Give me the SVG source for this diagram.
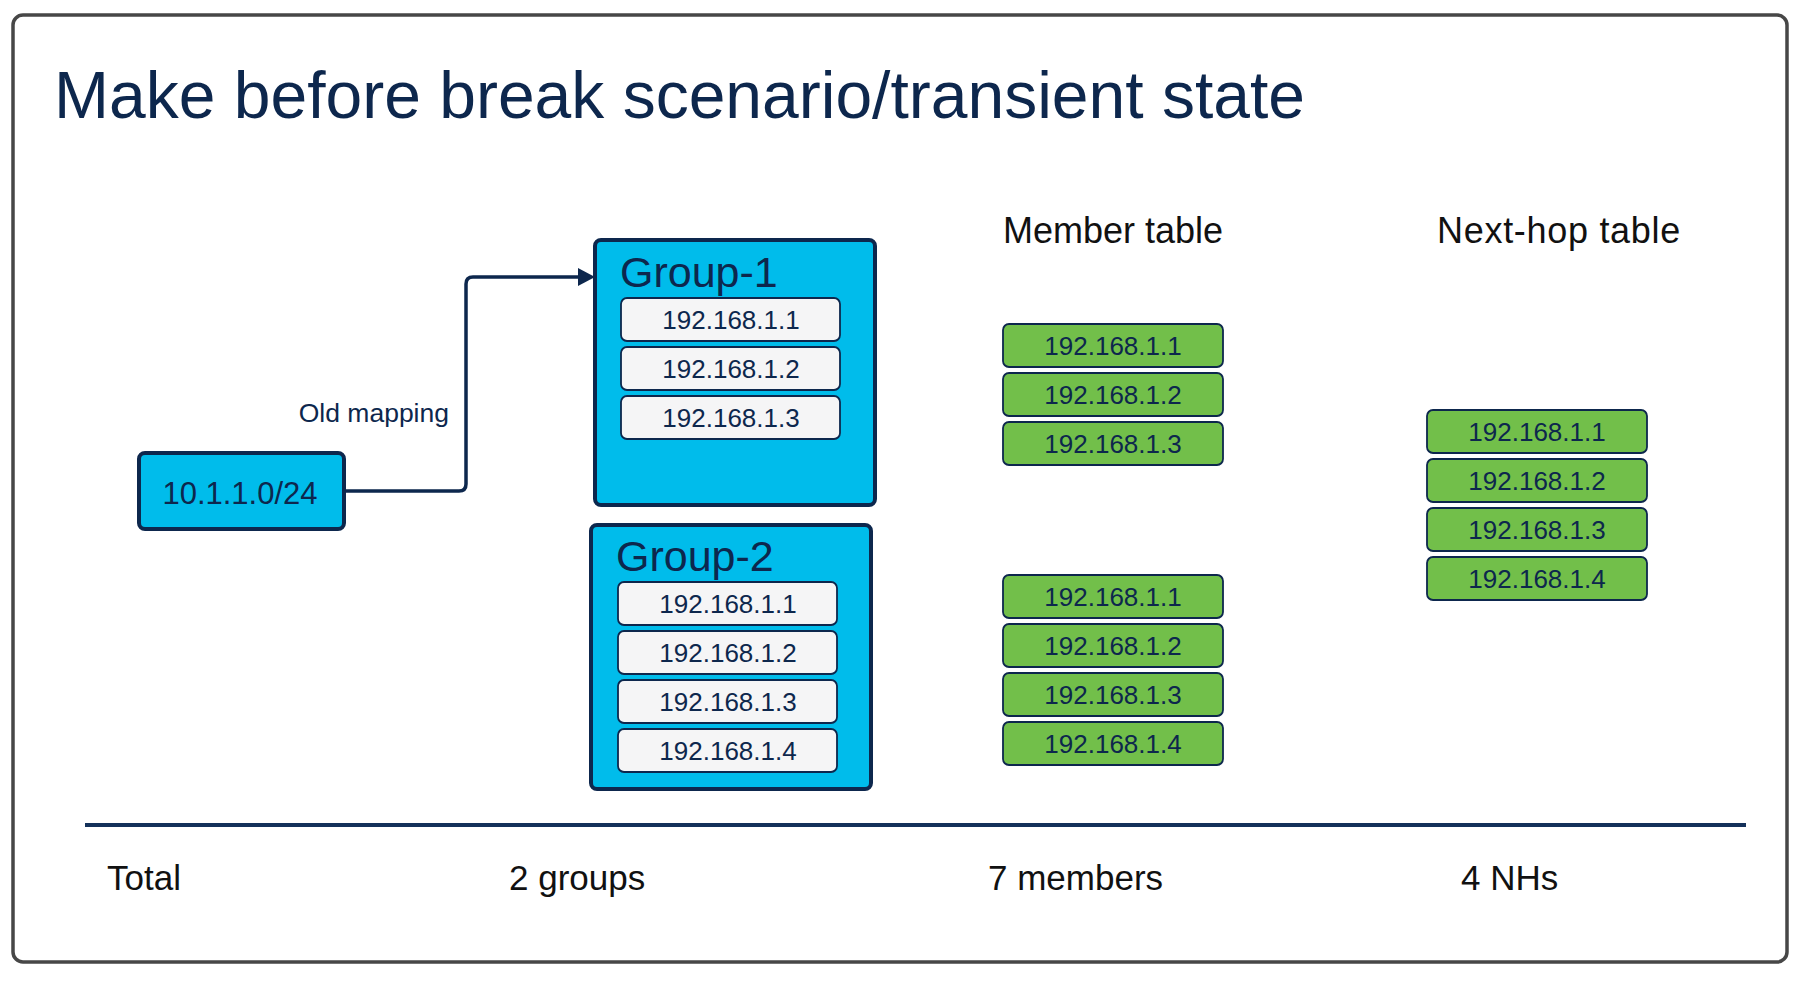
<svg xmlns="http://www.w3.org/2000/svg" width="1800" height="982" viewBox="0 0 1800 982">
<defs>
<style>
.frame{fill:#fff;stroke:#474747;stroke-width:3.5}
.title{font-family:"Liberation Sans",Arial,sans-serif;font-size:66px;fill:#0d274d}
.hdr{font-family:"Liberation Sans",Arial,sans-serif;font-size:36px;fill:#111}
.grp{fill:#00bceb;stroke:#0d274d;stroke-width:4}
.grpt{font-family:"Liberation Sans",Arial,sans-serif;font-size:43px;fill:#0d274d}
.ipw{fill:#f5f5f6;stroke:#0d274d;stroke-width:1.8}
.ipg{fill:#72bf4a;stroke:#0d274d;stroke-width:1.8}
.ipt{font-family:"Liberation Sans",Arial,sans-serif;font-size:26px;fill:#0d274d;text-anchor:middle;dominant-baseline:central}
.pfx{fill:#00bceb;stroke:#0d274d;stroke-width:4}
.lbl{font-family:"Liberation Sans",Arial,sans-serif;font-size:26.5px;fill:#0d274d}
.conn{fill:none;stroke:#0d274d;stroke-width:3.5}
.tot{font-family:"Liberation Sans",Arial,sans-serif;font-size:35px;fill:#111}
</style>
</defs>
<rect x="0" y="0" width="1800" height="982" fill="#fff"/>
<rect class="frame" x="13" y="15" width="1774" height="947" rx="10"/>
<text class="title" x="54" y="118">Make before break scenario/transient state</text>
<text class="hdr" x="1113" y="243" text-anchor="middle">Member table</text>
<text class="hdr" x="1559" y="243" text-anchor="middle" style="letter-spacing:0.7px">Next-hop table</text>

<g id="connectors">
<path class="conn" d="M344,491 H459 Q466,491 466,484 V284 Q466,277 473,277 H582" />
<path d="M578,268 L595,277 L578,286 z" fill="#0d274d"/>
<text class="lbl" x="449" y="422" text-anchor="end">Old mapping</text>
</g>

<g id="prefix">
<rect class="pfx" x="139" y="453" width="205" height="76" rx="6"/>
<text class="ipt" x="240" y="493" style="font-size:31px">10.1.1.0/24</text>
</g>

<g id="group1">
<rect class="grp" x="595" y="240" width="280" height="265" rx="6"/>
<text class="grpt" x="620" y="287">Group-1</text>
<rect class="ipw" x="621" y="298" width="219" height="43" rx="6"/><text class="ipt" x="731" y="320">192.168.1.1</text>
<rect class="ipw" x="621" y="347" width="219" height="43" rx="6"/><text class="ipt" x="731" y="369">192.168.1.2</text>
<rect class="ipw" x="621" y="396" width="219" height="43" rx="6"/><text class="ipt" x="731" y="418">192.168.1.3</text>
</g>

<g id="group2">
<rect class="grp" x="591" y="525" width="280" height="264" rx="6"/>
<text class="grpt" x="616" y="571">Group-2</text>
<rect class="ipw" x="618" y="582" width="219" height="43" rx="6"/><text class="ipt" x="728" y="604">192.168.1.1</text>
<rect class="ipw" x="618" y="631" width="219" height="43" rx="6"/><text class="ipt" x="728" y="653">192.168.1.2</text>
<rect class="ipw" x="618" y="680" width="219" height="43" rx="6"/><text class="ipt" x="728" y="702">192.168.1.3</text>
<rect class="ipw" x="618" y="729" width="219" height="43" rx="6"/><text class="ipt" x="728" y="751">192.168.1.4</text>
</g>

<g id="member-table-1">
<rect class="ipg" x="1003" y="324" width="220" height="43" rx="6"/><text class="ipt" x="1113" y="346">192.168.1.1</text>
<rect class="ipg" x="1003" y="373" width="220" height="43" rx="6"/><text class="ipt" x="1113" y="395">192.168.1.2</text>
<rect class="ipg" x="1003" y="422" width="220" height="43" rx="6"/><text class="ipt" x="1113" y="444">192.168.1.3</text>
</g>

<g id="member-table-2">
<rect class="ipg" x="1003" y="575" width="220" height="43" rx="6"/><text class="ipt" x="1113" y="597">192.168.1.1</text>
<rect class="ipg" x="1003" y="624" width="220" height="43" rx="6"/><text class="ipt" x="1113" y="646">192.168.1.2</text>
<rect class="ipg" x="1003" y="673" width="220" height="43" rx="6"/><text class="ipt" x="1113" y="695">192.168.1.3</text>
<rect class="ipg" x="1003" y="722" width="220" height="43" rx="6"/><text class="ipt" x="1113" y="744">192.168.1.4</text>
</g>

<g id="nexthop-table">
<rect class="ipg" x="1427" y="410" width="220" height="43" rx="6"/><text class="ipt" x="1537" y="432">192.168.1.1</text>
<rect class="ipg" x="1427" y="459" width="220" height="43" rx="6"/><text class="ipt" x="1537" y="481">192.168.1.2</text>
<rect class="ipg" x="1427" y="508" width="220" height="43" rx="6"/><text class="ipt" x="1537" y="530">192.168.1.3</text>
<rect class="ipg" x="1427" y="557" width="220" height="43" rx="6"/><text class="ipt" x="1537" y="579">192.168.1.4</text>
</g>

<line x1="85" y1="825" x2="1746" y2="825" stroke="#14315a" stroke-width="4"/>
<text class="tot" x="107" y="890">Total</text>
<text class="tot" x="509" y="890">2 groups</text>
<text class="tot" x="988" y="890">7 members</text>
<text class="tot" x="1461" y="890">4 NHs</text>
</svg>
